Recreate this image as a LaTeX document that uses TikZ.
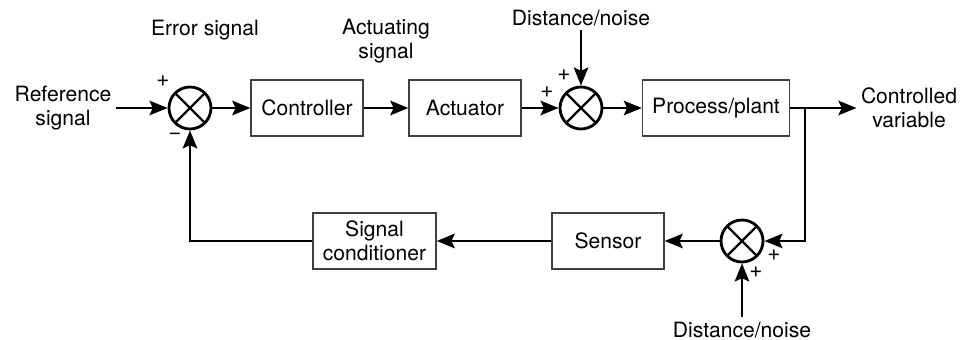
\documentclass[tikz,border=0pt]{standalone}
\usepackage{fontspec}
\setmainfont{TeX Gyre Heros}
\usepackage{tikz}
\usetikzlibrary{shapes,arrows,positioning,calc,arrows.meta}

\begin{document}
\begin{tikzpicture}[
        block/.style={rectangle, draw=black!75, line width=0.9pt, minimum height=1.4cm, font=\fontsize{15}{17}\selectfont, align=center},
        sumnode/.style={circle, draw=black, line width=2pt, minimum size=1.05cm, inner sep=0pt,
          path picture={\draw[line width=1.6pt] (path picture bounding box.south west) -- (path picture bounding box.north east)
            (path picture bounding box.north west) -- (path picture bounding box.south east);}},
        label/.style={font=\fontsize{15}{17}\selectfont, align=center, inner sep=3pt},
        sign/.style={font=\fontsize{16}{16}\selectfont, inner sep=0pt},
        arrow/.style={-{Stealth[length=0.45cm, width=0.36cm, inset=0.08cm]}, line width=2pt},
      ]
      \useasboundingbox (0,0) rectangle (24,8.5);
      % Forward path
      \node [label] (ref) at (1.575, 5.8) {Reference\\signal};
      \node [sumnode] (sum1) at (4.75, 5.8) {};
      \node [block, minimum width=2.8cm] (controller) at (7.675, 5.8) {Controller};
      \node [block, minimum width=2.8cm] (actuator) at (11.625, 5.8) {Actuator};
      \node [sumnode] (sum2) at (14.525, 5.8) {};
      \node [block, minimum width=3.675cm] (plant) at (17.9, 5.8) {Process/plant};
      \node [label] (cvar) at (22.725, 5.8) {Controlled\\variable};
      \coordinate (branch) at (20.125, 5.8);
      % Feedback path
      \node [sumnode] (sum3) at (18.55, 2.475) {};
      \node [block, minimum width=2.8cm] (sensor) at (15.2, 2.475) {Sensor};
      \node [block, minimum width=3.075cm] (cond) at (9.3625, 2.475) {Signal\\conditioner};
      % Labels and disturbances
      \node [label] (err) at (5.125, 7.75) {Error signal};
      \node [label] (act) at (9.65, 7.475) {Actuating\\signal};
      \node [label] (noise1) at (14.525, 8.05) {Distance/noise};
      \node [label] (noise2) at (18.55, 0.26) {Distance/noise};
      % Signs
      \node [sign] (p1) at (4.075, 6.47) {+};
      \node [sign] (m1) at (4.375, 5.1) {\textminus};
      \node [sign] (p2) at (14.1, 6.62) {+};
      \node [sign] (p3) at (13.675, 6.2) {+};
      \node [sign] (p4) at (19.35, 2.125) {+};
      \node [sign] (p5) at (18.9, 1.7) {+};
      % Connectors
      \draw [arrow] (ref) -- (sum1);
      \draw [arrow] (sum1) -- (controller);
      \draw [arrow] (controller) -- (actuator);
      \draw [arrow] (actuator) -- (sum2);
      \draw [arrow] (noise1) -- (sum2);
      \draw [arrow] (sum2) -- (plant);
      \draw [arrow] (plant) -- (cvar);
      \draw [arrow] (branch) |- (sum3);
      \draw [arrow] (noise2) -- (sum3);
      \draw [arrow] (sum3) -- (sensor);
      \draw [arrow] (sensor) -- (cond);
      \draw [arrow] (cond) -| (sum1);
    \end{tikzpicture}
\end{document}
